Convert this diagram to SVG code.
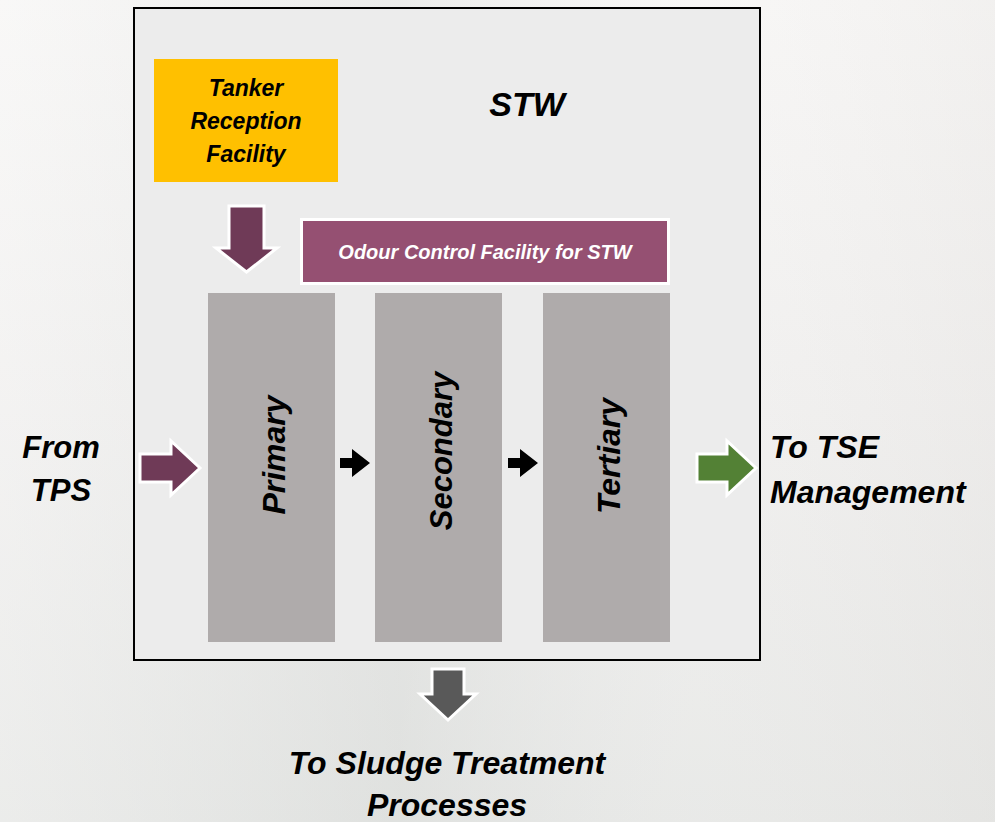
<svg xmlns="http://www.w3.org/2000/svg" width="995" height="822" viewBox="0 0 995 822">
<defs>
<linearGradient id="bg" x1="0" y1="0" x2="0" y2="1">
<stop offset="0" stop-color="#f6f5f4"/>
<stop offset="0.5" stop-color="#eeedec"/>
<stop offset="1" stop-color="#e3e4e2"/>
</linearGradient>
<linearGradient id="bg2" x1="0" y1="0" x2="1" y2="0">
<stop offset="0" stop-color="#ffffff" stop-opacity="0.3"/>
<stop offset="0.4" stop-color="#d8dbd9" stop-opacity="0.35"/>
<stop offset="0.7" stop-color="#ffffff" stop-opacity="0.2"/>
<stop offset="1" stop-color="#e8e6e4" stop-opacity="0.3"/>
</linearGradient>
</defs>
<style>
.t{font-family:"Liberation Sans","Open Sans",sans-serif;font-weight:bold;font-style:italic;fill:#000}
.col{fill:#afabab}
.arw{stroke:#fff;stroke-width:3;stroke-linejoin:miter}
</style>
<rect x="0" y="0" width="995" height="822" fill="url(#bg)"/>
<rect x="0" y="0" width="995" height="822" fill="url(#bg2)"/>
<g id="stw">
<rect x="134" y="8" width="626" height="652" fill="#ececec" stroke="#000" stroke-width="2"/>
<text class="t" x="527" y="116" font-size="34" text-anchor="middle">STW</text>
</g>
<g id="tanker">
<rect x="154" y="59" width="184" height="123" fill="#ffc000"/>
<text class="t" font-size="23" text-anchor="middle"><tspan x="246" y="96">Tanker</tspan><tspan x="246" y="129">Reception</tspan><tspan x="246" y="162">Facility</tspan></text>
</g>
<g id="odour">
<rect x="301.5" y="219.5" width="367" height="64" fill="#955072" stroke="#fff" stroke-width="3"/>
<text class="t" x="485" y="259" font-size="20" text-anchor="middle" style="fill:#fff">Odour Control Facility for STW</text>
</g>
<g id="primary">
<rect class="col" x="208" y="293" width="127" height="349"/>
<text class="t" transform="translate(285,455) rotate(-90)" font-size="32" text-anchor="middle">Primary</text>
</g>
<g id="secondary">
<rect class="col" x="375" y="293" width="127" height="349"/>
<text class="t" transform="translate(452,451) rotate(-90)" font-size="31" text-anchor="middle">Secondary</text>
</g>
<g id="tertiary">
<rect class="col" x="543" y="293" width="127" height="349"/>
<text class="t" transform="translate(620,456) rotate(-90)" font-size="32" text-anchor="middle">Tertiary</text>
</g>
<g id="labels">
<text class="t" font-size="31" text-anchor="middle"><tspan x="61" y="458">From</tspan><tspan x="61" y="501">TPS</tspan></text>
<text class="t" font-size="32"><tspan x="770" y="458">To TSE</tspan><tspan x="770" y="503">Management</tspan></text>
<text class="t" font-size="32" text-anchor="middle"><tspan x="447" y="774">To Sludge Treatment</tspan><tspan x="447" y="816">Processes</tspan></text>
</g>
<g id="connectors">
<polygon class="arw" points="229,206 264,206 264,248 277,248 246.5,272 216,248 229,248" fill="#6f3a57"/>
<polygon class="arw" points="140,454 171,454 171,441 200,468 171,495 171,482 140,482" fill="#6f3a57"/>
<polygon class="arw" points="697,454 727,454 727,441 756,468 727,495 727,482 697,482" fill="#538135"/>
<polygon class="arw" points="432,669 464,669 464,694 476,694 448,720 420,694 432,694" fill="#595959"/>
<polygon points="340,458 352,458 352,449 370,463 352,477 352,468 340,468" fill="#000"/>
<polygon points="508,458 520,458 520,449 538,463 520,477 520,468 508,468" fill="#000"/>
</g>
</svg>
